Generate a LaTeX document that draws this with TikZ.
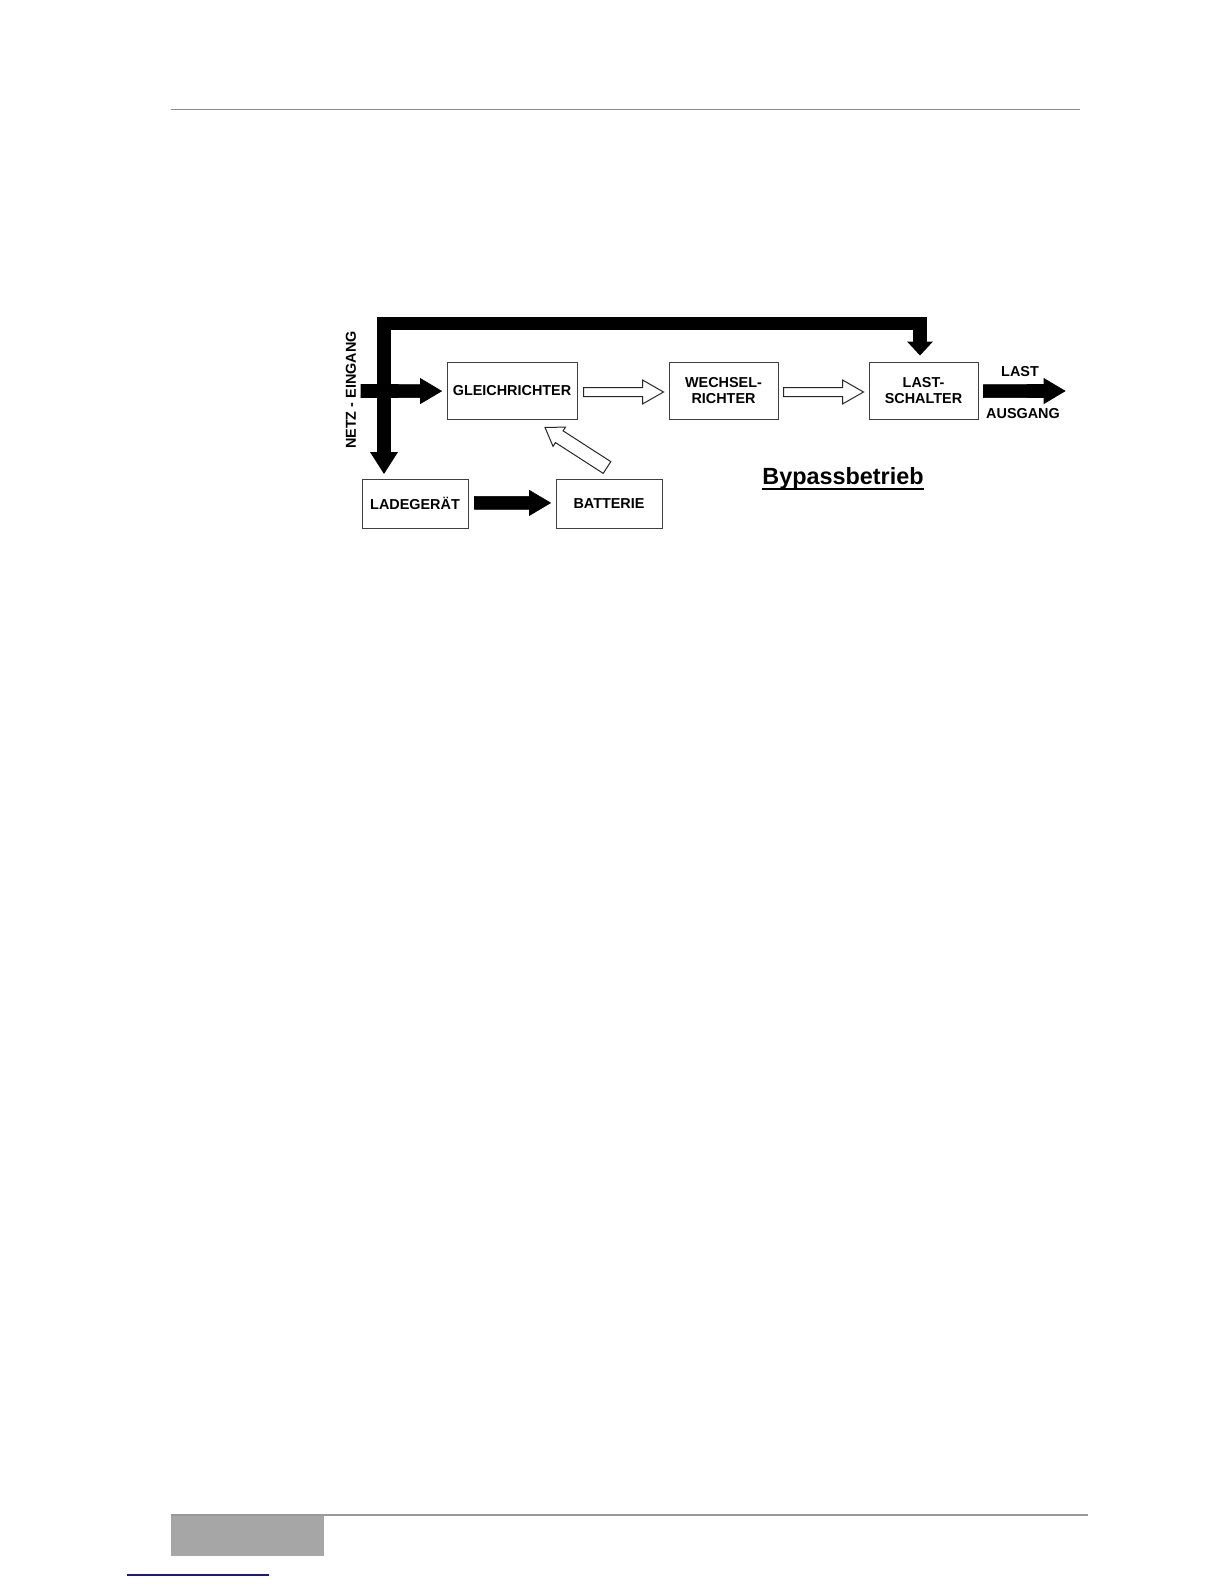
\documentclass[tikz,border=0pt]{standalone}
\usepackage{fontspec}
\setmainfont{Liberation Sans}
\usetikzlibrary{calc,arrows.meta}
\definecolor{hdrgray}{HTML}{8C8C8C}
\definecolor{ftrgray}{HTML}{999999}
\definecolor{boxgray}{HTML}{A6A6A6}
\definecolor{linkblue}{HTML}{1A1A80}
\newcommand\blockarrow[6]{%
  \coordinate (bah) at ($(#3)!#6!(#2)$);
  \draw[#1] ($(#2)!#4!90:(#3)$) -- ($(bah)!#4!90:(#3)$) -- ($(bah)!#5!90:(#3)$) -- (#3)
    -- ($(bah)!#5!-90:(#3)$) -- ($(bah)!#4!-90:(#3)$) -- ($(#2)!#4!-90:(#3)$) -- cycle;
}
\tikzset{
  blk/.style={draw=black!75, line width=0.5pt, inner sep=0pt, align=center,
    font=\fontsize{7.2}{8}\selectfont\bfseries},
  lbl/.style={inner sep=0pt, font=\fontsize{7.2}{8}\selectfont\bfseries},
  solidarrow/.style={fill=black, draw=black, line width=0.3pt, line join=miter},
  openarrow/.style={fill=white, draw=black!85, line width=0.5pt, line join=miter},
  bypass/.style={line width=6.75pt, line join=miter, line cap=butt,
    {Triangle[length=11pt,width=14pt,line width=0pt]}-{Triangle[length=7pt,width=13pt,line width=0pt]}}
}
\begin{document}
\begin{tikzpicture}[x=0.5pt,y=-0.5pt]
\useasboundingbox[fill=white] (0,0) rectangle (1224,1584);
% page decoration
\draw[hdrgray, line width=0.65pt] (171,109.5) -- (1080,109.5);
\fill[boxgray] (171,1515) rectangle (324,1556);
\draw[ftrgray, line width=1pt] (171,1515) -- (1088,1515);
\draw[linkblue, line width=0.7pt] (127,1575) -- (269,1575);
% boxes
\node[blk, minimum width=65pt, minimum height=28.5pt] (gl) at (512,390.5) {GLEICHRICHTER};
\node[blk, minimum width=54.5pt, minimum height=28.5pt] (we) at (723.5,390.5) {WECHSEL-\\RICHTER};
\node[blk, minimum width=54.5pt, minimum height=28.5pt] (ls) at (923.5,390.5) {LAST-\\SCHALTER};
\node[blk, minimum width=53pt, minimum height=24.5pt] (lg) at (415,503.5) {LADEGERÄT};
\node[blk, minimum width=53pt, minimum height=24.5pt] (bt) at (609,503.5) {BATTERIE};
% labels
\node[lbl, rotate=90] (netz) at (351,390) {NETZ - EINGANG};
\node[lbl] (last) at (1020,372) {LAST};
\node[lbl] (ausg) at (1023,414) {AUSGANG};
\node[inner sep=0pt, anchor=base, font=\fontsize{11.7}{14}\selectfont\bfseries] (bp) at (843,484) {Bypassbetrieb};
\draw[line width=0.75pt] ([yshift=-2.6pt]bp.base west) -- ([yshift=-2.6pt]bp.base east);
% free ends
\coordinate (netzin) at (361,391);
\coordinate (out) at (1065,391);
% bypass path
\draw[bypass] ([xshift=11.25pt,yshift=2.25pt]lg.north west) -- ++(0,-150.5) -| ([xshift=-1.75pt,yshift=3pt]ls.north);
% solid arrows
\blockarrow{solidarrow}{netzin}{$(gl.west)+(-2.5pt,-0.3pt)$}{3.25pt}{6.25pt}{10.5pt}
\blockarrow{solidarrow}{$(ls.east)+(2.5pt,-0.3pt)$}{out}{3.25pt}{6.25pt}{10.5pt}
\blockarrow{solidarrow}{$(lg.east)+(3pt,0.3pt)$}{$(bt.west)+(-2.5pt,0.3pt)$}{3.25pt}{6.25pt}{10.5pt}
% open arrows
\blockarrow{openarrow}{$(gl.east)+(3pt,-0.75pt)$}{$(we.west)+(-2.5pt,-0.75pt)$}{2.25pt}{6pt}{10.5pt}
\blockarrow{openarrow}{$(we.east)+(2.5pt,-0.75pt)$}{$(ls.west)+(-2.5pt,-0.75pt)$}{2.25pt}{6pt}{10.5pt}
\blockarrow{openarrow}{$(bt.north)+(-1pt,5.5pt)$}{$(gl.south)+(16.5pt,-4pt)$}{3.5pt}{5.75pt}{8.5pt}
\end{tikzpicture}
\end{document}
